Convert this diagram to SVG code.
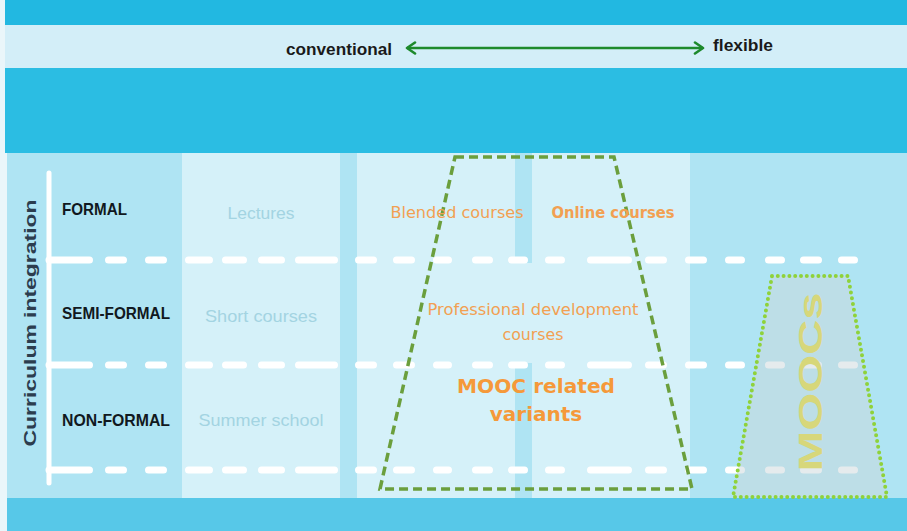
<svg xmlns="http://www.w3.org/2000/svg" xmlns:xlink="http://www.w3.org/1999/xlink" width="907" height="531" viewBox="0 0 907 531">
  <style>
    .hdr { font-family: "Liberation Sans", Arial, sans-serif; font-weight: bold; font-size: 17px; fill: #1a1a1a; }
    .lvl { font-family: "Liberation Sans", Arial, sans-serif; font-weight: bold; font-size: 16.5px; fill: #111820; }
    .conv { font-family: "Liberation Sans", Arial, sans-serif; font-size: 17px; fill: #a3d4e2; text-anchor: middle; }
    .org { font-family: "DejaVu Sans", sans-serif; font-size: 16px; fill: #f2a052; text-anchor: middle; }
    .orgb { font-family: "DejaVu Sans", sans-serif; font-weight: bold; font-size: 20px; fill: #f5993a; text-anchor: middle; }
    .wdash { fill: none; stroke: #ffffff; stroke-width: 7; stroke-linecap: round; }
  </style>
  <defs>
    <marker id="chev" viewBox="-10 -7 12 14" markerWidth="12" markerHeight="14" refX="0" refY="0" orient="auto-start-reverse" markerUnits="userSpaceOnUse">
      <path d="M-8,-5.5 L0,0 L-8,5.5" fill="none" stroke="#1d8a2c" stroke-width="2.6" stroke-linecap="round" stroke-linejoin="round"/>
    </marker>
    <path id="dash" d="M49 0H89.5M108.5 0H123.5M148.5 0H163.5M188.5 0H209.5M225.5 0H243.5M261.5 0H281.5M298.5 0H334.5M358.5 0H373.5M396.5 0H411.5M436.5 0H448.5M475.5 0H489.5M511.5 0H524.5M548.5 0H561.5M590.5 0H628.5M648.5 0H663.5M688.5 0H703.5M728.5 0H741.5M768.5 0H781.5M803.5 0H818.5M841.5 0H854.5"/>
  </defs>

  <!-- background bands -->
  <g id="background">
    <rect x="0" y="0" width="907" height="531" fill="#eaf6fa"/>
    <rect x="5" y="0" width="902" height="25" fill="#22b8e1"/>
    <rect x="5" y="25" width="902" height="43" fill="#d3eef8"/>
    <rect x="5" y="68" width="902" height="85" fill="#2bbde3"/>
    <rect x="7" y="153" width="900" height="345" fill="#afe4f3"/>
    <rect x="7" y="498" width="900" height="33" fill="#57c8e8"/>
    <rect x="182" y="153" width="158" height="345" fill="#d5f1f9"/>
    <rect x="357" y="153" width="158" height="345" fill="#d5f1f9"/>
    <rect x="532" y="153" width="158" height="345" fill="#d5f1f9"/>
    <rect x="515" y="263" width="17" height="100" fill="#d5f1f9"/>
  </g>

  <!-- header scale -->
  <g id="scale">
    <text class="hdr" x="286" y="55" textLength="106" lengthAdjust="spacingAndGlyphs">conventional</text>
    <text class="hdr" x="713" y="51" textLength="60" lengthAdjust="spacingAndGlyphs">flexible</text>
  </g>

  <!-- connectors / guide lines -->
  <g id="connectors">
    <line x1="407" y1="48" x2="703" y2="48" stroke="#1d8a2c" stroke-width="2.6" marker-start="url(#chev)" marker-end="url(#chev)"/>
    <line x1="49" y1="173" x2="49" y2="483" stroke="#ffffff" stroke-width="5" stroke-linecap="round"/>
    <use xlink:href="#dash" href="#dash" class="wdash" y="260"/>
    <use xlink:href="#dash" href="#dash" class="wdash" y="365"/>
    <use xlink:href="#dash" href="#dash" class="wdash" y="470"/>
  </g>

  <!-- axis label -->
  <g id="axis">
    <text transform="translate(36,323) rotate(-90)" text-anchor="middle" font-family="Liberation Sans, Arial, sans-serif" font-weight="bold" font-size="17" fill="#2c3d4e" textLength="247" lengthAdjust="spacingAndGlyphs">Curriculum integration</text>
  </g>

  <!-- levels -->
  <g id="formal"><text class="lvl" x="62" y="215" textLength="65" lengthAdjust="spacingAndGlyphs">FORMAL</text></g>
  <g id="semi-formal"><text class="lvl" x="62" y="319" textLength="108" lengthAdjust="spacingAndGlyphs">SEMI-FORMAL</text></g>
  <g id="non-formal"><text class="lvl" x="62" y="426" textLength="108" lengthAdjust="spacingAndGlyphs">NON-FORMAL</text></g>

  <!-- conventional offerings -->
  <g id="lectures"><text class="conv" x="261" y="219" textLength="67" lengthAdjust="spacingAndGlyphs">Lectures</text></g>
  <g id="short-courses"><text class="conv" x="261" y="322" textLength="112" lengthAdjust="spacingAndGlyphs">Short courses</text></g>
  <g id="summer-school"><text class="conv" x="261" y="426" textLength="125" lengthAdjust="spacingAndGlyphs">Summer school</text></g>

  <!-- MOOC related variants trapezoid -->
  <g id="mooc-variants">
    <polygon points="455,157 614,157 692,489 380,489" fill="none" stroke="#6b9f3d" stroke-width="3.5" stroke-dasharray="9 5"/>
    <text class="org" x="457" y="218" textLength="133" lengthAdjust="spacingAndGlyphs">Blended courses</text>
    <text class="org" x="613" y="218" font-weight="bold" textLength="123" lengthAdjust="spacingAndGlyphs">Online courses</text>
    <text class="org" x="533" y="315" textLength="211" lengthAdjust="spacingAndGlyphs">Professional development</text>
    <text class="org" x="533" y="340" textLength="61" lengthAdjust="spacingAndGlyphs">courses</text>
    <text class="orgb" x="536" y="393" textLength="158" lengthAdjust="spacingAndGlyphs">MOOC related</text>
    <text class="orgb" x="536" y="421">variants</text>
  </g>

  <!-- MOOCs trapezoid -->
  <g id="moocs">
    <polygon points="772,276 848,276 887,497 733,497" fill="#cbd7db" fill-opacity="0.5" stroke="#8fd23a" stroke-width="4" stroke-dasharray="0 5.8" stroke-linecap="round"/>
    <text transform="translate(822,382) rotate(-90)" text-anchor="middle" font-family="Liberation Sans, Arial, sans-serif" font-weight="bold" font-size="33" fill="#d7d77a" textLength="179" lengthAdjust="spacingAndGlyphs">MOOCs</text>
  </g>
</svg>
